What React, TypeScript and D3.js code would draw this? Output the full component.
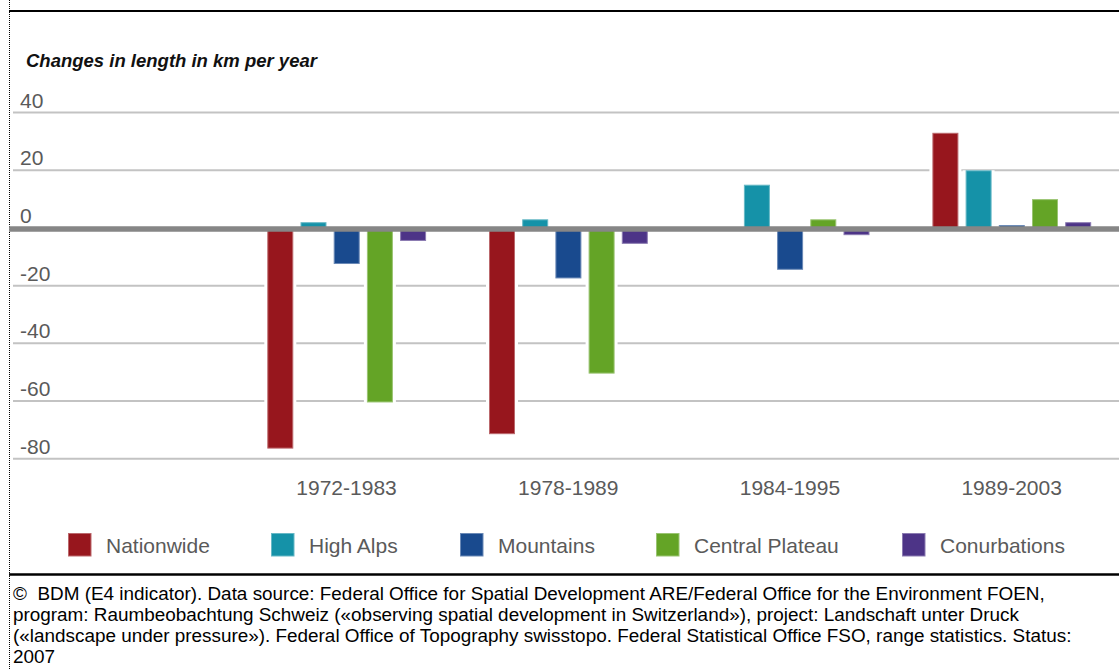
import React from "react";
import * as d3 from "d3";

const periods = ["1972-1983", "1978-1989", "1984-1995", "1989-2003"];
const seriesNames = ["Nationwide", "High Alps", "Mountains", "Central Plateau", "Conurbations"];
const nationwide = [-76.5, -71.5, 0, 33];
const highAlps = [2, 3, 15, 20];
const mountains = [-12.5, -17.5, -14.5, 1];
const centralPlateau = [-60.5, -50.5, 3, 10];
const conurbations = [-4.5, -5.5, -2.5, 2];
const seriesValues = [nationwide, highAlps, mountains, centralPlateau, conurbations];
const seriesColors = ["#97161d", "#1592a8", "#194a8e", "#64a426", "#4d3487"];
const yTicks = [40, 20, 0, -20, -40, -60, -80];
const legendX = [68, 271, 460, 656, 902];
const title = "Changes in length in km per year";
const footerLines = [
  "©  BDM (E4 indicator). Data source: Federal Office for Spatial Development ARE/Federal Office for the Environment FOEN,",
  "program: Raumbeobachtung Schweiz («observing spatial development in Switzerland»), project: Landschaft unter Druck",
  "(«landscape under pressure»). Federal Office of Topography swisstopo. Federal Statistical Office FSO, range statistics. Status:",
  "2007",
];

const W = 1119;
const H = 669;
const FONT = "'Liberation Sans', Arial, Helvetica, sans-serif";

export default function App() {
  const y = d3.scaleLinear().domain([-80, 40]).range([458.7, 112.6]);
  const band = 221.7;
  const x = d3.scaleBand<string>().domain(["", ...periods]).range([13, 13 + 5 * band]).padding(0);
  const inner = d3
    .scaleBand<string>()
    .domain(seriesNames)
    .range([29, 29 + 166])
    .paddingInner(0.217)
    .paddingOuter(0.1085);
  const lighten = (c: string) => d3.interpolateRgb(c, "#ffffff")(0.35);

  return (
    <div style={{ position: "absolute", left: 0, top: 0, width: W, height: H, background: "#fff" }}>
      <svg width={W} height={H} style={{ display: "block" }}>
        <rect x={0} y={0} width={W} height={H} fill="#fff" />
        {/* left dotted border */}
        <line x1={9.5} x2={9.5} y1={0} y2={H} stroke="#000" strokeWidth={1} strokeDasharray="1 1" />
        {/* top rule */}
        <line x1={9} x2={W} y1={11} y2={11} stroke="#000" strokeWidth={2} />
        {/* title */}
        <text x={26} y={67} fontFamily={FONT} fontSize={18.5} fontWeight="bold" fontStyle="italic" fill="#111">
          {title}
        </text>
        {/* gridlines */}
        {yTicks
          .filter((t) => t !== 0)
          .map((t) => (
            <line key={"g" + t} x1={13} x2={W} y1={y(t)} y2={y(t)} stroke="#c3c3c3" strokeWidth={2} />
          ))}
        {/* tick labels */}
        {yTicks.map((t) => (
          <text key={"t" + t} x={20} y={y(t) - 5} fontFamily={FONT} fontSize={21} fill="#5a5a5a">
            {String(t)}
          </text>
        ))}
        {/* bars */}
        {periods.map((p, pi) =>
          seriesNames.map((s, si) => {
            const v = seriesValues[si][pi];
            if (!v) return null;
            const bx = (x(p) as number) + (inner(s) as number);
            const bw = inner.bandwidth();
            const y0 = y(0);
            const y1 = y(v);
            const top = Math.min(y0, y1);
            const h = Math.abs(y1 - y0);
            return (
              <g key={p + s}>
                <rect x={bx - 3} y={top} width={bw + 6} height={h} fill="#fff" />
                <rect
                  x={bx + 0.5}
                  y={top + 0.5}
                  width={bw - 1}
                  height={Math.max(h - 1, 0.5)}
                  fill={seriesColors[si]}
                  stroke={lighten(seriesColors[si])}
                  strokeWidth={1}
                />
              </g>
            );
          })
        )}
        {/* zero line */}
        <line x1={9} x2={W} y1={y(0) + 1} y2={y(0) + 1} stroke="#868686" strokeWidth={5.5} />
        {/* category labels */}
        {periods.map((p) => (
          <text
            key={"c" + p}
            x={(x(p) as number) + x.bandwidth() / 2 + 1}
            y={495}
            textAnchor="middle"
            fontFamily={FONT}
            fontSize={21}
            fill="#5a5a5a"
          >
            {p}
          </text>
        ))}
        {/* legend */}
        {seriesNames.map((s, si) => (
          <g key={"l" + s}>
            <rect
              x={legendX[si] + 0.5}
              y={533.5}
              width={22.5}
              height={22.5}
              fill={seriesColors[si]}
              stroke={lighten(seriesColors[si])}
              strokeWidth={1}
            />
            <text x={legendX[si] + 38} y={553} fontFamily={FONT} fontSize={21} fill="#5a5a5a">
              {s}
            </text>
          </g>
        ))}
        {/* bottom rule */}
        <line x1={9} x2={W} y1={574.5} y2={574.5} stroke="#000" strokeWidth={2.5} />
        {/* footer */}
        {footerLines.map((l, i) => (
          <text key={"f" + i} x={13} y={600 + i * 20.9} fontFamily={FONT} fontSize={18.9} fill="#000" style={{ whiteSpace: "pre" }}>
            {l}
          </text>
        ))}
      </svg>
    </div>
  );
}
